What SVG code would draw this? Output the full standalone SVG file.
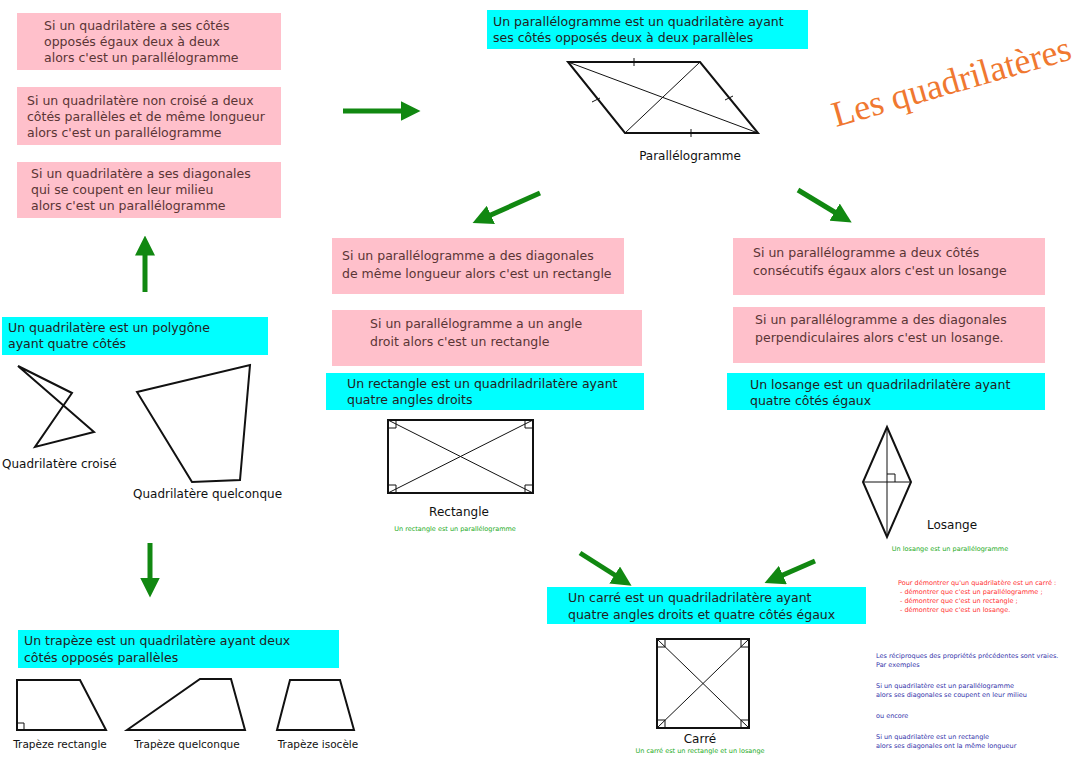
<svg xmlns="http://www.w3.org/2000/svg" width="1080" height="759" viewBox="0 0 1080 759">
<style>
text{font-family:"DejaVu Sans","Liberation Sans",sans-serif}
.pk{fill:#ffc0cb}.cy{fill:#00ffff}
.pt{font-size:12.5px;fill:#5a3535}
.ct{font-size:12.5px;fill:#222}
.lb{font-size:12px;fill:#111}
.sh{fill:none;stroke:#111;stroke-width:2}
.tn{fill:none;stroke:#111;stroke-width:1}
.g{font-size:6.5px;fill:#22aa22}
.r{font-size:6.5px;fill:#ff3030}
.b{font-size:6.5px;fill:#3333aa}
.ar{stroke:#118811;stroke-width:5;fill:none;marker-end:url(#ah)}
</style>
<defs><marker id="ah" markerWidth="4" markerHeight="4" refX="1.5" refY="2" orient="auto"><path d="M0,0 L4,2 L0,4 Z" fill="#118811"/></marker></defs>
<rect width="1080" height="759" fill="#fff"/>
<g id="connectors">
<line class="ar" x1="343" y1="111" x2="408" y2="111"/>
<line class="ar" x1="145" y1="292" x2="145" y2="248"/>
<line class="ar" x1="150" y1="543" x2="150" y2="585"/>
<line class="ar" x1="540" y1="193" x2="484" y2="218"/>
<line class="ar" x1="798" y1="190" x2="841" y2="216"/>
<line class="ar" x1="580" y1="553" x2="621" y2="579"/>
<line class="ar" x1="815" y1="561" x2="776" y2="578"/>
</g>
<g id="title"><text x="836" y="127" transform="rotate(-16 836 127)" style="font-family:'Liberation Serif',serif;font-size:36px;fill:#f07830">Les quadrilatères</text></g>
<g id="recip-left">
<rect class="pk" x="17" y="13" width="264" height="57"/>
<text class="pt" x="44" y="30">Si un quadrilatère a ses côtés</text>
<text class="pt" x="44" y="46">opposés égaux deux à deux</text>
<text class="pt" x="44" y="62">alors c'est un parallélogramme</text>
<rect class="pk" x="17" y="87" width="264" height="58"/>
<text class="pt" x="27" y="105">Si un quadrilatère non croisé a deux</text>
<text class="pt" x="27" y="121">côtés parallèles et de même longueur</text>
<text class="pt" x="27" y="137">alors c'est un parallélogramme</text>
<rect class="pk" x="17" y="162" width="264" height="56"/>
<text class="pt" x="31" y="178">Si un quadrilatère a ses diagonales</text>
<text class="pt" x="31" y="194">qui se coupent en leur milieu</text>
<text class="pt" x="31" y="210">alors c'est un parallélogramme</text>
</g>
<g id="parallelogramme">
<rect class="cy" x="487" y="10" width="321" height="39"/>
<text class="ct" x="493" y="26">Un parallélogramme est un quadrilatère ayant</text>
<text class="ct" x="493" y="42">ses côtés opposés deux à deux parallèles</text>
<polygon class="sh" points="568,62 700,62 758,133 625,133"/>
<line class="tn" x1="568" y1="62" x2="758" y2="133"/>
<line class="tn" x1="700" y1="62" x2="625" y2="133"/>
<path class="tn" d="M634,58v8 M691,129v8 M592,102l8,-4 M725,100l8,-4"/>
<text class="lb" x="690" y="160" text-anchor="middle">Parallélogramme</text>
</g>
<g id="rectangle">
<rect class="pk" x="332" y="238" width="292" height="56"/>
<text class="pt" x="342" y="260">Si un parallélogramme a des diagonales</text>
<text class="pt" x="342" y="278">de même longueur alors c'est un rectangle</text>
<rect class="pk" x="332" y="310" width="310" height="56"/>
<text class="pt" x="370" y="328">Si un parallélogramme a un angle</text>
<text class="pt" x="370" y="346">droit alors c'est un rectangle</text>
<rect class="cy" x="326" y="373" width="318" height="37"/>
<text class="ct" x="347" y="388">Un rectangle est un quadriladrilatère ayant</text>
<text class="ct" x="347" y="404">quatre angles droits</text>
<rect class="sh" x="388" y="420" width="145" height="73"/>
<line class="tn" x1="388" y1="420" x2="533" y2="493"/>
<line class="tn" x1="533" y1="420" x2="388" y2="493"/>
<path class="tn" d="M388,428h8v-8 M525,420v8h8 M388,485h8v8 M525,493v-8h8"/>
<text class="lb" x="459" y="516" text-anchor="middle">Rectangle</text>
<text class="g" x="455" y="531" text-anchor="middle">Un rectangle est un parallélogramme</text>
</g>
<g id="losange">
<rect class="pk" x="733" y="238" width="312" height="57"/>
<text class="pt" x="753" y="257">Si un parallélogramme a deux côtés</text>
<text class="pt" x="753" y="275">consécutifs égaux alors c'est un losange</text>
<rect class="pk" x="733" y="307" width="312" height="56"/>
<text class="pt" x="755" y="324">Si un parallélogramme a des diagonales</text>
<text class="pt" x="755" y="342">perpendiculaires alors c'est un losange.</text>
<rect class="cy" x="727" y="373" width="318" height="37"/>
<text class="ct" x="750" y="389">Un losange est un quadriladrilatère ayant</text>
<text class="ct" x="750" y="405">quatre côtés égaux</text>
<polygon class="sh" points="887,427 911,482 887,537 863,482"/>
<line class="tn" x1="887" y1="427" x2="887" y2="537"/>
<line class="tn" x1="863" y1="482" x2="911" y2="482"/>
<path class="tn" d="M887,474h8v8"/>
<text class="lb" x="952" y="529" text-anchor="middle">Losange</text>
<text class="g" x="950" y="551" text-anchor="middle">Un losange est un parallélogramme</text>
</g>
<g id="quadrilatere">
<rect class="cy" x="2" y="317" width="266" height="38"/>
<text class="ct" x="8" y="332">Un quadrilatère est un polygône</text>
<text class="ct" x="8" y="348">ayant quatre côtés</text>
<polygon class="sh" points="18,366 72,393 35,447 94,432"/>
<polygon class="sh" points="137,392 250,365 240,480 192,482"/>
<text class="lb" x="2" y="468">Quadrilatère croisé</text>
<text class="lb" x="133" y="498">Quadrilatère quelconque</text>
</g>
<g id="trapeze">
<rect class="cy" x="18" y="630" width="321" height="38"/>
<text class="ct" x="24" y="645">Un trapèze est un quadrilatère ayant deux</text>
<text class="ct" x="24" y="662">côtés opposés parallèles</text>
<polygon class="sh" points="17,680 80,680 106,730 17,730"/>
<path class="tn" d="M17,723h7v7"/>
<polygon class="sh" points="127,730 200,679 231,679 245,730"/>
<polygon class="sh" points="277,730 290,680 340,680 354,730"/>
<text class="lb" x="60" y="748" text-anchor="middle" style="font-size:10.5px">Trapèze rectangle</text>
<text class="lb" x="187" y="748" text-anchor="middle" style="font-size:10.5px">Trapèze quelconque</text>
<text class="lb" x="318" y="748" text-anchor="middle" style="font-size:10.5px">Trapèze isocèle</text>
</g>
<g id="carre">
<rect class="cy" x="547" y="587" width="319" height="37"/>
<text class="ct" x="568" y="602">Un carré est un quadriladrilatère ayant</text>
<text class="ct" x="568" y="619">quatre angles droits et quatre côtés égaux</text>
<rect class="sh" x="657" y="639" width="92" height="89"/>
<line class="tn" x1="657" y1="639" x2="749" y2="728"/>
<line class="tn" x1="749" y1="639" x2="657" y2="728"/>
<path class="tn" d="M657,647h8v-8 M741,639v8h8 M657,720h8v8 M741,728v-8h8"/>
<text class="lb" x="700" y="743" text-anchor="middle">Carré</text>
<text class="g" x="700" y="753" text-anchor="middle">Un carré est un rectangle et un losange</text>
</g>
<g id="notes">
<text class="r" x="898" y="585">Pour démontrer qu'un quadrilatère est un carré :</text>
<text class="r" x="900" y="594">- démontrer que c'est un parallélogramme ;</text>
<text class="r" x="900" y="603">- démontrer que c'est un rectangle ;</text>
<text class="r" x="900" y="612">- démontrer que c'est un losange.</text>
<text class="b" x="876" y="658">Les réciproques des propriétés précédentes sont vraies.</text>
<text class="b" x="876" y="667">Par exemples</text>
<text class="b" x="876" y="688">Si un quadrilatère est un parallélogramme</text>
<text class="b" x="876" y="697">alors ses diagonales se coupent en leur milieu</text>
<text class="b" x="876" y="718">ou encore</text>
<text class="b" x="876" y="739">Si un quadrilatère est un rectangle</text>
<text class="b" x="876" y="748">alors ses diagonales ont la même longueur</text>
</g>
</svg>
